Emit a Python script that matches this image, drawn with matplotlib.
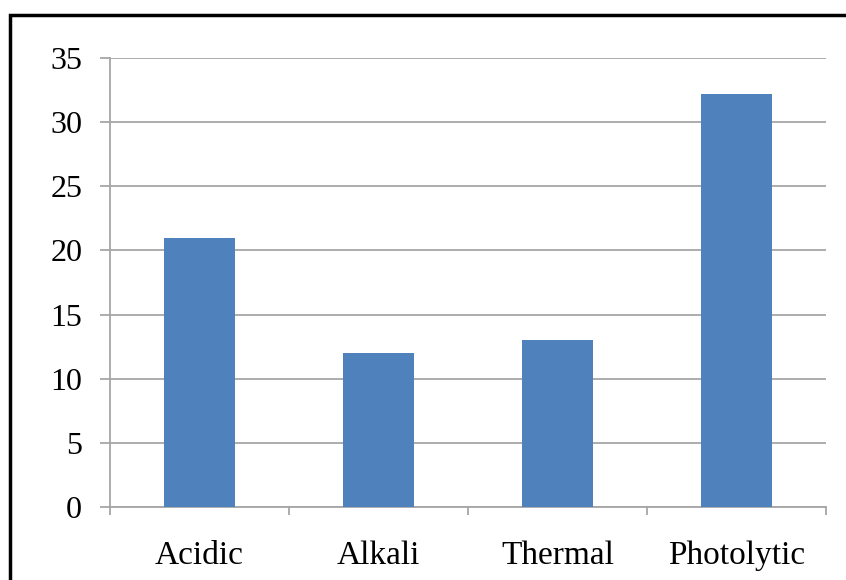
import matplotlib.pyplot as plt
import numpy as np
from matplotlib.patches import Rectangle

# degradation conditions and their values
conditions = ['Acidic', 'Alkali', 'Thermal', 'Photolytic']
values = [21.0, 12.0, 13.0, 32.2]
yticks = [0, 5, 10, 15, 20, 25, 30, 35]

bar_color = '#4F81BD'
grid_color = '#A6A6A6'

plt.rcParams['font.family'] = ['Liberation Serif', 'DejaVu Serif']

fig = plt.figure(figsize=(8.46, 5.80), dpi=100)
ax = fig.add_axes([110 / 846, 1 - 507 / 580, 716 / 846, 449 / 580])

x = np.arange(len(conditions))
ax.bar(x, values, width=0.4, color=bar_color, zorder=3)

ax.set_xlim(-0.5, len(conditions) - 0.5)
ax.set_ylim(0, 35)
ax.set_yticks(yticks)
ax.set_yticklabels([str(v) for v in yticks], fontsize=23)
ax.yaxis.grid(True, color=grid_color, linewidth=1.3, zorder=0)

# labels at bar centres, tick marks on category boundaries
ax.set_xticks(x)
ax.set_xticklabels(conditions, fontsize=24)
ax.set_xticks(np.arange(len(conditions) + 1) - 0.5, minor=True)
ax.tick_params(axis='x', which='major', length=0, pad=24)
ax.tick_params(axis='x', which='minor', length=6, width=1.3, color=grid_color)
ax.tick_params(axis='y', length=7, width=1.3, color=grid_color, pad=13)

for side in ['top', 'right']:
    ax.spines[side].set_visible(False)
for side in ['left', 'bottom']:
    ax.spines[side].set_color(grid_color)
    ax.spines[side].set_linewidth(1.3)

# black frame around the chart
fig.patches.append(Rectangle((10 / 846, -0.1), 1.0, 1 - 15 / 580 + 0.1,
                             transform=fig.transFigure, fill=False,
                             edgecolor='black', linewidth=2.5))

fig.savefig('out.png', dpi=100)
